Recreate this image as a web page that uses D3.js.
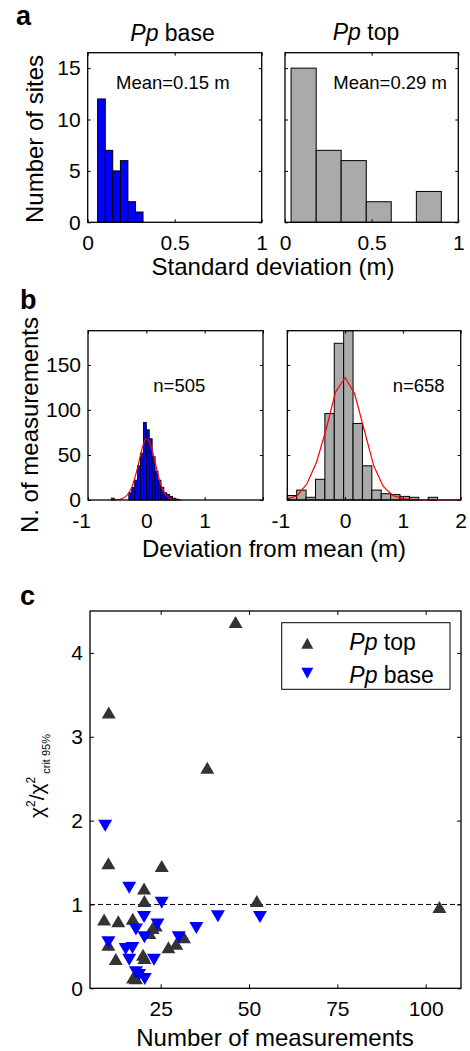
<!DOCTYPE html>
<html><head><meta charset="utf-8">
<script src="https://cdn.jsdelivr.net/npm/d3@7"></script>
<style>
body{margin:0;background:#fff;}
svg{display:block;font-family:"Liberation Sans",Arial,sans-serif;}
</style></head><body>
<svg id="chart" width="470" height="1051"></svg>
<script>
// ---------- DATA ----------
// panel a: standard deviation histograms (bin edges in m, counts = number of sites)
const sdBaseEdges = [0.057, 0.101, 0.144, 0.188, 0.231, 0.275, 0.318];
const sdBaseCounts = [12, 7, 5, 6, 2, 1];
const sdTopEdges = [0.035, 0.180, 0.324, 0.469, 0.613, 0.758, 0.902];
const sdTopCounts = [15, 7, 6, 2, 0, 3];
const sdXTicks = [0, 0.5, 1];
const sdYTicks = [0, 5, 10, 15];
const sdMeanLabels = ["Mean=0.15 m", "Mean=0.29 m"];

// panel b: deviation from mean histograms
const devBaseEdges = [-0.6,-0.55,-0.5,-0.45,-0.4,-0.35,-0.3,-0.25,-0.2,-0.15,-0.1,-0.05,0,0.05,0.1,0.15,0.2,0.25,0.3,0.35,0.4,0.45,0.5,0.55];
const devBaseCounts = [2,0,0,0,0,0,8,14,22,38,52,86,78,68,48,32,22,14,8,6,4,2,1];
const devTopEdges = [-1,-0.8375,-0.675,-0.5125,-0.35,-0.1875,-0.025,0.1375,0.3,0.4625,0.625,0.7875,0.95,1.1125,1.275,1.4375,1.6];
const devTopCounts = [5,11,3,23,96,174,188,85,38,11,7,6,4,3,0,3];
const fitBaseX = [-0.6,-0.55,-0.5,-0.45,-0.4,-0.35,-0.3,-0.25,-0.2,-0.15,-0.1,-0.05,0,0.05,0.1,0.15,0.2,0.25,0.3,0.35,0.4,0.45,0.5,0.55,0.6];
const fitBaseY = [0,0.1,0.3,0.8,2,4,8,14,24,36,50,62,68,65,55,42,28,17,9,4.5,2,0.8,0.3,0.1,0];
const fitTopX = [-1,-0.825,-0.66,-0.495,-0.33,-0.165,0,0.165,0.33,0.495,0.66,0.825,0.99,1.155,1.32,1.485,1.65,2];
const fitTopY = [1,5,18,42,78,120,136,118,78,38,15,5,1.5,0.4,0,0,0,0];
const devXTicks = [-1, 0, 1, 2];
const devXLabelsLeft = ["-1", "0", "1", ""];
const devXLabelsRight = ["-1", "0", "1", "2"];
const devYTicks = [0, 50, 100, 150];
const nLabels = ["n=505", "n=658"];

// panel c: chi-square ratio vs number of measurements
const topN   = [10.3,46.2,38.2,10.2,25.3,20.3,20.4,52.2,103.9,9.0,13.0,17.1,23.6,22.7,21.8,31.6,29.4,27.2,10.2,12.3,20.0,20.4,17.2,18.0];
const topChi = [3.29,4.37,2.63,1.49,1.46,1.19,1.04,1.04,0.97,0.82,0.80,0.83,0.75,0.72,0.66,0.61,0.53,0.49,0.52,0.35,0.40,0.36,0.13,0.12];
const baseN   = [9.3,16.1,25.3,20.3,24.1,18.0,20.4,10.2,30.1,35.1,41.2,53.1,15.1,17.0,16.1,23.1,18.0,18.9,20.5];
const baseChi = [1.94,1.20,1.02,0.85,0.76,0.70,0.61,0.55,0.61,0.72,0.86,0.85,0.47,0.48,0.34,0.34,0.19,0.16,0.11];
const chiXTicks = [25, 50, 75, 100];
const chiYTicks = [0, 1, 2, 3, 4];
const seriesNames = ["top", "base"];

// ---------- STYLE ----------
const BLUE = "#0000ff", GRAY = "#aaaaaa", DARK = "#333333";
const svg = d3.select("#chart");
svg.append("rect").attr("width",470).attr("height",1051).attr("fill","#fff");

function makePanel(box, xDom, yDom){
  const x = d3.scaleLinear().domain(xDom).range([box.l, box.r]);
  const y = d3.scaleLinear().domain(yDom).range([box.b, box.t]);
  const g = svg.append("g");
  return {box, x, y, g};
}

function drawAxes(p, xTicks, yTicks, showY, tl, xLabels){
  const {box, x, y} = p;
  const fmt = d => String(d);
  const xfmt = xLabels ? (d,i) => xLabels[i] : fmt;
  const style = sel => {
    sel.select(".domain").remove();
    sel.selectAll(".tick line").attr("stroke","#000").attr("stroke-width",1);
    sel.selectAll(".tick text").attr("fill","#000").attr("font-size",21).attr("font-family","Liberation Sans, Arial, sans-serif");
  };
  const b = svg.append("g").attr("transform",`translate(0,${box.b})`)
    .call(d3.axisBottom(x).tickValues(xTicks).tickSize(-tl).tickPadding(13).tickFormat(xfmt)).call(style);
  b.selectAll(".tick text").attr("dx", d => d < 0 ? -7 : 0);
  svg.append("g").attr("transform",`translate(0,${box.t})`)
    .call(d3.axisTop(x).tickValues(xTicks).tickSize(-tl).tickFormat("")).call(style);
  svg.append("g").attr("transform",`translate(${box.l},0)`)
    .call(d3.axisLeft(y).tickValues(yTicks).tickSize(-tl).tickPadding(7).tickFormat(showY ? fmt : "")).call(style);
  svg.append("g").attr("transform",`translate(${box.r},0)`)
    .call(d3.axisRight(y).tickValues(yTicks).tickSize(-tl).tickFormat("")).call(style);
  svg.append("rect").attr("x",box.l).attr("y",box.t).attr("width",box.r-box.l).attr("height",box.b-box.t)
    .attr("fill","none").attr("stroke","#000").attr("stroke-width",1.3);
}

function drawHist(p, edges, counts, fill, sw){
  const bins = counts.map((c,i)=>({x0:edges[i], x1:edges[i+1], c})).filter(d=>d.c>0);
  p.g.selectAll(null).data(bins).join("rect")
    .attr("x", d=>p.x(Math.max(d.x0, p.x.domain()[0])))
    .attr("width", d=>p.x(d.x1)-p.x(Math.max(d.x0, p.x.domain()[0])))
    .attr("y", d=>p.y(d.c))
    .attr("height", d=>p.y(0)-p.y(d.c))
    .attr("fill", fill).attr("stroke","#000").attr("stroke-width", sw);
}

function txt(x, y, s, size, opts={}){
  const t = svg.append("text").attr("x",x).attr("y",y).attr("font-size",size).attr("fill","#000");
  if(opts.anchor) t.attr("text-anchor",opts.anchor);
  if(opts.weight) t.attr("font-weight",opts.weight);
  if(opts.rotate) t.attr("transform",`rotate(-90,${x},${y})`);
  t.text(s);
  return t;
}
function italicTitle(x, y, rest, size, anchor){
  const t = svg.append("text").attr("x",x).attr("y",y).attr("font-size",size).attr("fill","#000");
  if(anchor) t.attr("text-anchor",anchor);
  t.append("tspan").attr("font-style","italic").text("Pp");
  t.append("tspan").text(" " + rest);
  return t;
}

// ---------- PANEL a ----------
const aL = makePanel({l:87.7, r:261.7, t:52.7, b:222.3}, [0,1], [0,16.5]);
const aR = makePanel({l:285, r:458.3, t:52.7, b:222.3}, [0,1], [0,16.5]);
drawHist(aL, sdBaseEdges, sdBaseCounts, BLUE, 1);
drawHist(aR, sdTopEdges, sdTopCounts, GRAY, 1);
drawAxes(aL, sdXTicks, sdYTicks, true, 3);
drawAxes(aR, sdXTicks, sdYTicks, false, 3);
txt(116, 89.3, sdMeanLabels[0], 18.5);
txt(333.3, 89.3, sdMeanLabels[1], 18.5);
italicTitle(172.5, 41, "base", 23, "middle");
italicTitle(366, 40, "top", 23, "middle");
txt(16, 25, "a", 27, {weight:"bold"});
txt(43, 139, "Number of sites", 24, {anchor:"middle", rotate:true});
txt(273, 275, "Standard deviation (m)", 24, {anchor:"middle"});

// ---------- PANEL b ----------
const bL = makePanel({l:88, r:263, t:330.7, b:500}, [-1,2], [0,188]);
const bR = makePanel({l:287.3, r:460.7, t:330.7, b:500}, [-1,2], [0,188]);
drawHist(bL, devBaseEdges, devBaseCounts, BLUE, 0.9);
drawHist(bR, devTopEdges, devTopCounts, GRAY, 1);
bL.g.append("path").datum(fitBaseX.map((v,i)=>[v,fitBaseY[i]]))
  .attr("d", d3.line().x(d=>bL.x(d[0])).y(d=>bL.y(d[1])).curve(d3.curveMonotoneX))
  .attr("fill","none").attr("stroke","#ff0000").attr("stroke-width",1.2);
bR.g.append("path").datum(fitTopX.map((v,i)=>[v,fitTopY[i]]))
  .attr("d", d3.line().x(d=>bR.x(d[0])).y(d=>bR.y(d[1])))
  .attr("fill","none").attr("stroke","#ff0000").attr("stroke-width",1.2);
drawAxes(bL, devXTicks, devYTicks, true, 3, devXLabelsLeft);
drawAxes(bR, devXTicks, devYTicks, false, 3, devXLabelsRight);
txt(153.3, 391.7, nLabels[0], 18.5);
txt(392.7, 391.7, nLabels[1], 18.5);
txt(20, 309, "b", 27, {weight:"bold"});
txt(38, 425, "N. of measurements", 24, {anchor:"middle", rotate:true});
txt(274, 557, "Deviation from mean (m)", 24, {anchor:"middle"});

// ---------- PANEL c ----------
const c = makePanel({l:90, r:461, t:611, b:988.3}, [5,110], [0,4.5]);
const tri = (cx, cy, w, h, up) => up
  ? `M${cx},${cy-h/2}L${cx+w/2},${cy+h/2}L${cx-w/2},${cy+h/2}Z`
  : `M${cx},${cy+h/2}L${cx+w/2},${cy-h/2}L${cx-w/2},${cy-h/2}Z`;
c.g.append("line").attr("x1",c.box.l).attr("x2",c.box.r).attr("y1",c.y(1)).attr("y2",c.y(1))
  .attr("stroke","#000").attr("stroke-width",1).attr("stroke-dasharray","5,3");
c.g.selectAll(null).data(topN.map((n,i)=>[n,topChi[i]])).join("path")
  .attr("d", d=>tri(c.x(d[0]), c.y(d[1]), 14, 12, true)).attr("fill",DARK);
c.g.selectAll(null).data(baseN.map((n,i)=>[n,baseChi[i]])).join("path")
  .attr("d", d=>tri(c.x(d[0]), c.y(d[1]), 14, 12, false)).attr("fill",BLUE);
drawAxes(c, chiXTicks, chiYTicks, true, 4);
// legend
svg.append("rect").attr("x",281.7).attr("y",622.7).attr("width",168.3).attr("height",66.6)
  .attr("fill","#fff").attr("stroke","#000").attr("stroke-width",1);
svg.append("path").attr("d", tri(307.3, 643.3, 12, 11, true)).attr("fill", DARK);
svg.append("path").attr("d", tri(307.3, 673.3, 12, 11, false)).attr("fill", BLUE);
italicTitle(349.3, 649.5, seriesNames[0], 23);
italicTitle(349.3, 682.5, seriesNames[1], 23);
txt(20, 605, "c", 27, {weight:"bold"});
txt(275, 1046, "Number of measurements", 24, {anchor:"middle"});
// y label: chi^2 / chi^2 crit 95%
{
  const yl = svg.append("text").attr("x",43.5).attr("y",818).attr("fill","#000")
    .attr("transform","rotate(-90,43.5,818)").attr("font-size",21);
  yl.append("tspan").text("χ");
  yl.append("tspan").attr("font-size",12).attr("dy",-9).text("2");
  yl.append("tspan").attr("dy",9).text("/χ");
  yl.append("tspan").attr("font-size",12).attr("dy",-9).text("2");
  yl.append("tspan").attr("font-size",11).attr("dy",15.5).attr("dx",3).text("crit 95%");
}
</script>
</body></html>
